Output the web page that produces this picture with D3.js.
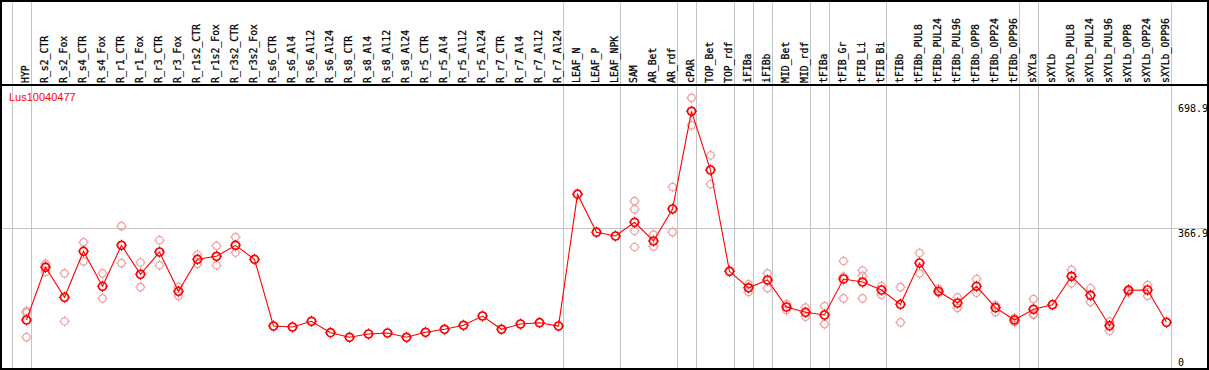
<!DOCTYPE html>
<html>
<head>
<meta charset="utf-8">
<script src="https://cdn.jsdelivr.net/npm/d3@7"></script>
<style>
  html, body { margin: 0; padding: 0; background: #fff; }
  svg { display: block; }
  .col-label { font-family: "DejaVu Sans Mono", monospace; font-size: 9.8px; fill: #000; stroke: #000; stroke-width: 0.25px; }
  .tick-label { font-family: "DejaVu Sans Mono", monospace; font-size: 10px; fill: #000; }
  .title { font-family: "Liberation Sans", Arial, sans-serif; font-size: 11px; fill: #ff0000; }
</style>
</head>
<body>
<svg id="chart" width="1209" height="370"></svg>
<script>
const geneId = "Lus10040477";

const categories = [
  "HYP", "R_s2_CTR", "R_s2_Fox", "R_s4_CTR", "R_s4_Fox", "R_r1_CTR", "R_r1_Fox",
  "R_r3_CTR", "R_r3_Fox", "R_r1s2_CTR", "R_r1s2_Fox", "R_r3s2_CTR", "R_r3s2_Fox",
  "R_s6_CTR", "R_s6_Al4", "R_s6_Al12", "R_s6_Al24", "R_s8_CTR", "R_s8_Al4", "R_s8_Al12",
  "R_s8_Al24", "R_r5_CTR", "R_r5_Al4", "R_r5_Al12", "R_r5_Al24", "R_r7_CTR", "R_r7_Al4",
  "R_r7_Al12", "R_r7_Al24", "LEAF_N", "LEAF_P", "LEAF_NPK", "SAM", "AR_Bet", "AR_rdf",
  "cPAR", "TOP_Bet", "TOP_rdf", "iFIBa", "iFIBb", "MID_Bet", "MID_rdf", "tFIBa",
  "tFIB_Gr", "tFIB_Li", "tFIB_Bi", "tFIBb", "tFIBb_PUL8", "tFIBb_PUL24", "tFIBb_PUL96",
  "tFIBb_OPP8", "tFIBb_OPP24", "tFIBb_OPP96", "sXYLa", "sXYLb", "sXYLb_PUL8",
  "sXYLb_PUL24", "sXYLb_PUL96", "sXYLb_OPP8", "sXYLb_OPP24", "sXYLb_OPP96"
];

// mean expression per sample
const means = [
  106.7, 256.2, 171.1, 301.6, 202.3, 318.7, 236.4, 299.7, 188.1, 278.9, 287.5, 318.7, 278.9,
  89.7, 86.8, 103.0, 70.7, 57.6, 67.0, 69.8, 57.6, 71.8, 80.3, 91.7, 118.0, 80.3, 95.3,
  99.0, 89.7, 463.7, 355.8, 345.1, 383.9, 330.9, 421.7, 698.9, 532.3, 244.9, 198.1,
  220.2, 143.6, 128.5, 120.9, 223.0, 214.5, 191.8, 151.2, 268.4, 188.1, 154.9, 202.3,
  141.6, 106.7, 137.1, 150.1, 230.7, 176.8, 90.5, 191.0, 191.8, 100.2
];

// individual replicates (only those visible apart from the mean)
const replicates = [
  [132, 127, 58], [266, 260, 243], [239, 103], [327, 273], [239, 168], [373, 268], [270, 200],
  [333, 262], [201, 175], [292, 266], [317, 262], [342, 298], [],
  [], [], [], [], [], [], [], [], [], [], [], [], [], [], [], [],
  [], [], [], [444, 421, 360, 314], [349, 315], [484, 356], [737, 659], [574, 492], [], [208, 186],
  [239, 197], [152, 135], [142, 116], [146, 95], [274, 230, 168], [247, 232, 168], [203, 178], [200, 100],
  [297, 239], [195, 184], [171, 141], [223, 184],
  [149, 129], [112, 101], [166, 124, 121], [], [249, 211],
  [197, 158], [102, 76], [194, 185], [206, 175], []
];

// last sample of each group (a grey separator follows it)
const groupEnds = [
  "HYP", "R_r7_Al24", "LEAF_NPK", "AR_rdf", "cPAR", "TOP_rdf", "iFIBa", "iFIBb",
  "MID_rdf", "tFIBa", "tFIB_Bi", "tFIBb_OPP96", "sXYLa", "sXYLb_OPP96"
];

const yTicks = [0, 366.9, 698.9];
const yGrid = [366.9];

const W = 1209, H = 370;
const headerBottom = 85;

const svg = d3.select("#chart");

const x = d3.scalePoint().domain(categories).range([26, 1166]);
const step = x.step();
const y = d3.scaleLinear().domain([0, 698.9]).range([357.6, 111.3]);

// grey separators (one before the first sample, then after each group)
const sepX = [x(categories[0]) - step + 4.5].concat(groupEnds.map(c => x(c) + 4.5));
svg.append("g")
  .selectAll("line")
  .data(sepX)
  .join("line")
  .attr("x1", d => Math.round(d) + 0.5)
  .attr("x2", d => Math.round(d) + 0.5)
  .attr("y1", 0)
  .attr("y2", H)
  .attr("stroke", "#c4c4c4")
  .attr("stroke-width", 1);

// horizontal grid line
svg.append("g")
  .selectAll("line")
  .data(yGrid)
  .join("line")
  .attr("x1", 0)
  .attr("x2", W)
  .attr("y1", d => Math.round(y(d)) + 0.5)
  .attr("y2", d => Math.round(y(d)) + 0.5)
  .attr("stroke", "#c4c4c4")
  .attr("stroke-width", 1);

// frame
const frame = svg.append("g").attr("stroke", "#000").attr("stroke-width", 2);
frame.append("line").attr("x1", 0).attr("x2", W).attr("y1", 1).attr("y2", 1);
frame.append("line").attr("x1", 0).attr("x2", W).attr("y1", H - 1).attr("y2", H - 1);
frame.append("line").attr("x1", 1).attr("x2", 1).attr("y1", 0).attr("y2", H);
frame.append("line").attr("x1", W - 1).attr("x2", W - 1).attr("y1", 0).attr("y2", H);
frame.append("line").attr("x1", 0).attr("x2", W).attr("y1", headerBottom).attr("y2", headerBottom);

// column labels, rotated
svg.append("g")
  .selectAll("text")
  .data(categories)
  .join("text")
  .attr("class", "col-label")
  .attr("transform", d => `translate(${x(d) + 3},${headerBottom - 2}) rotate(-90)`)
  .attr("text-anchor", "start")
  .text(d => d);

// y tick labels on the right
svg.append("g")
  .selectAll("text")
  .data(yTicks)
  .join("text")
  .attr("class", "tick-label")
  .attr("x", 1178)
  .attr("y", d => d === d3.max(yTicks) ? y(d) + 0.5 : y(d) + 8.5)
  .text(d => d === 0 ? "0" : d3.format(".1f")(d));

// title
svg.append("text")
  .attr("class", "title")
  .attr("x", 9)
  .attr("y", 101)
  .text(geneId);

function marker(g, r, color, sw) {
  g.append("circle").attr("r", r).attr("fill", "none").attr("stroke", color).attr("stroke-width", sw);
  const t = r + 1.6;
  g.append("path")
    .attr("d", `M0,${-t}V${-r}M0,${r}V${t}M${-t},0H${-r}M${r},0H${t}`)
    .attr("stroke", color)
    .attr("stroke-width", 1)
    .attr("fill", "none");
}

// replicate points
const reps = [];
categories.forEach((c, i) => replicates[i].forEach(v => reps.push({ c, v })));
svg.append("g")
  .selectAll("g")
  .data(reps)
  .join("g")
  .attr("transform", d => `translate(${x(d.c) + 0.5},${y(d.v)})`)
  .each(function () { marker(d3.select(this), 3.7, "#eea0a0", 1.2); });

// mean line
const line = d3.line().x((d, i) => x(categories[i]) + 0.5).y(d => y(d));
svg.append("path")
  .datum(means)
  .attr("d", line)
  .attr("fill", "none")
  .attr("stroke", "#ff0000")
  .attr("stroke-width", 1.1);

// mean points
svg.append("g")
  .selectAll("g")
  .data(means)
  .join("g")
  .attr("transform", (d, i) => `translate(${x(categories[i]) + 0.5},${y(d)})`)
  .each(function () { marker(d3.select(this), 4, "#ff0000", 1.7); });
</script>
</body>
</html>
